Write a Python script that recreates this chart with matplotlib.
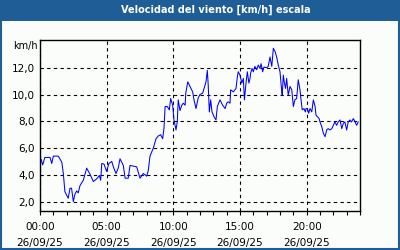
import matplotlib
matplotlib.use("Agg")
import matplotlib.pyplot as plt
from matplotlib.patches import Rectangle

# wind speed readings for 26/09/25 (time of day, km/h)
times = ["00:05", "00:12", "00:22", "00:45", "00:53", "01:00", "01:22", "01:38",
         "01:45", "01:52", "02:07", "02:15", "02:22", "02:30", "02:37", "02:45",
         "02:52", "03:00", "03:15", "03:30", "03:45", "04:00", "04:15", "04:27",
         "04:33", "04:38", "04:48", "05:00", "05:10", "05:23", "05:30", "05:42",
         "05:52", "06:00", "06:15", "06:23", "06:37", "06:45", "07:15", "07:30",
         "07:45", "08:00", "08:07", "08:15", "08:30", "08:42", "08:52", "09:03",
         "09:12", "09:18", "09:23", "09:33", "09:42", "09:48", "09:57", "10:03",
         "10:12", "10:18", "10:22", "10:30", "10:38", "10:45", "10:53", "10:56",
         "11:05", "11:15", "11:27", "11:33", "11:42", "11:52", "12:00", "12:12",
         "12:18", "12:27", "12:33", "12:37", "12:42", "12:48", "12:54", "13:03",
         "13:12", "13:18", "13:30", "13:42", "13:53", "14:00", "14:07", "14:15",
         "14:18", "14:30", "14:42", "14:48", "14:52", "15:00", "15:08", "15:15",
         "15:20", "15:27", "15:33", "15:40", "15:45", "15:48", "15:54", "16:00",
         "16:07", "16:15", "16:22", "16:30", "16:35", "16:42", "16:48", "17:00",
         "17:07", "17:15", "17:23", "17:30", "17:38", "17:45", "17:52", "18:00",
         "18:08", "18:10", "18:15", "18:20", "18:25", "18:30", "18:37", "18:45",
         "18:53", "19:00", "19:07", "19:15", "19:22", "19:30", "19:34", "19:40",
         "19:48", "19:54", "19:57", "20:03", "20:09", "20:15", "20:23", "20:30",
         "20:38", "20:42", "20:48", "20:56", "21:00", "21:08", "21:15", "21:23",
         "21:30", "21:37", "21:45", "21:53", "22:00", "22:07", "22:15", "22:22",
         "22:30", "22:38", "22:45", "22:52", "23:00", "23:07", "23:15", "23:22",
         "23:30", "23:38", "23:45", "23:52"]
speed = [5.16, 4.74, 5.3, 5.3, 4.85, 5.4, 5.4, 4.95,
         4.1, 2.75, 2.25, 3.0, 3.0, 2.0, 2.55, 2.8,
         2.65, 3.2, 3.6, 4.5, 4.05, 3.5, 3.7, 3.95,
         3.6, 4.85, 4.8, 4.25, 4.85, 5.0, 4.6, 4.1,
         4.5, 5.2, 4.7, 3.75, 3.75, 4.7, 4.6, 3.75,
         4.1, 3.9, 4.3, 5.4, 6.0, 6.7, 6.9, 7.0,
         6.7, 7.5, 9.1, 9.1, 8.85, 9.7, 9.2, 8.1,
         7.35, 8.0, 9.6, 8.8, 9.2, 9.35, 9.2, 10.1,
         10.95, 10.6, 10.2, 9.6, 8.95, 9.75, 10.0, 10.1,
         10.45, 10.95, 11.8, 10.7, 8.7, 9.6, 8.7, 8.35,
         8.1, 9.1, 9.6, 9.2, 8.95, 9.35, 9.45, 9.35,
         10.35, 10.2, 10.45, 11.3, 11.7, 11.45, 10.85, 11.2,
         9.6, 10.85, 11.7, 10.85, 11.2, 11.6, 11.95, 11.7,
         12.1, 11.85, 12.2, 11.95, 12.3, 11.7, 12.05, 12.0,
         12.1, 12.8, 12.1, 13.45, 13.2, 12.8, 12.2, 11.7,
         10.2, 9.95, 11.45, 10.85, 10.45, 11.2, 9.95, 10.6,
         10.35, 9.1, 9.6, 9.7, 11.1, 10.35, 9.7, 8.85,
         8.95, 8.7, 8.95, 8.95, 8.6, 8.95, 8.7, 9.6,
         9.1, 8.45, 8.35, 8.2, 7.95, 7.6, 7.1, 6.85,
         7.35, 7.45, 7.35, 7.45, 7.7, 7.95, 7.7, 7.95,
         8.1, 7.45, 7.85, 7.95, 7.35, 7.95, 8.1, 7.95,
         8.2, 7.95, 7.7, 7.95]

xticks_h = [0, 5, 10, 15, 20]
xtick_labels = ["00:00\n26/09/25", "05:00\n26/09/25", "10:00\n26/09/25",
                "15:00\n26/09/25", "20:00\n26/09/25"]
yticks = [2, 4, 6, 8, 10, 12]

hours = [int(t[:2]) + int(t[3:]) / 60 for t in times]

blue = "#1f5d97"
bg = "#fbfdfa"

fig = plt.figure(figsize=(4, 2.5), dpi=100, facecolor=bg)

# frame + title bar
fig.patches.append(Rectangle((0, 0.918), 1, 0.082, transform=fig.transFigure,
                             facecolor=blue, edgecolor="none", zorder=0))
fig.patches.append(Rectangle((0.0025, 0.004), 0.995, 0.992, transform=fig.transFigure,
                             facecolor="none", edgecolor=blue, linewidth=1.5, zorder=0))
fig.text(0.54, 0.96, "Velocidad del viento [km/h] escala", color="white",
         fontsize=7, fontweight="bold", ha="center", va="center")

ax = fig.add_axes([0.1, 0.156, 0.8, 0.684], facecolor=bg)
ax.plot(hours, speed, color="#0000ff", linewidth=0.75)

ax.set_xlim(0, 24)
ax.set_ylim(1.3, 14.07)
ax.set_xticks(xticks_h)
ax.set_xticklabels(xtick_labels, fontsize=7.5, linespacing=1.75)
ax.set_xticks(range(0, 25), minor=True)
ax.set_yticks(yticks)
ax.set_yticklabels([f"{v:.1f}".replace(".", ",") for v in yticks], fontsize=7.5)

ax.tick_params(axis="x", which="both", direction="out", length=3, width=0.8, pad=5)
ax.tick_params(axis="y", length=0, pad=4)
ax.grid(True, which="major", color="black", linestyle=(0, (3, 3)), linewidth=0.8)
for s in ax.spines.values():
    s.set_linewidth(1)

fig.text(0.032, 0.815, "km/h", fontsize=7, ha="left", va="center")

fig.savefig("out.png", dpi=100, facecolor=bg)
